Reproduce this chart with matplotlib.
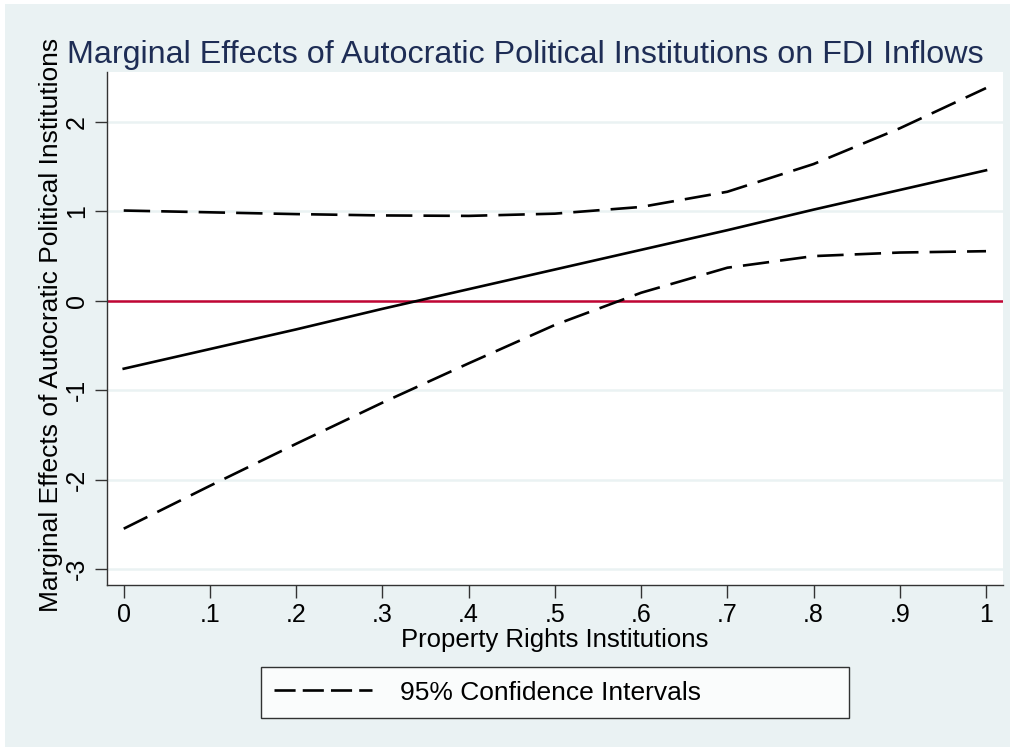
import matplotlib
matplotlib.use("Agg")
import matplotlib.pyplot as plt
from matplotlib.patches import Rectangle
from matplotlib.lines import Line2D

plt.rcParams['font.family'] = ['Liberation Sans', 'DejaVu Sans']

# Data
x_vals = [0.0, 0.1, 0.2, 0.3, 0.4, 0.5, 0.6, 0.7, 0.8, 0.9, 1.0]
marginal_effect = [-0.76, -0.54, -0.32, -0.09, 0.13, 0.35, 0.57, 0.79, 1.02, 1.24, 1.46]
upper_ci = [1.01, 0.99, 0.97, 0.955, 0.95, 0.975, 1.05, 1.22, 1.53, 1.93, 2.38]
lower_ci = [-2.55, -2.07, -1.60, -1.14, -0.70, -0.27, 0.09, 0.37, 0.50, 0.54, 0.555]
x_ticks = [0.0, 0.1, 0.2, 0.3, 0.4, 0.5, 0.6, 0.7, 0.8, 0.9, 1.0]
x_tick_labels = ['0', '.1', '.2', '.3', '.4', '.5', '.6', '.7', '.8', '.9', '1']
y_ticks = [-3, -2, -1, 0, 1, 2]
y_tick_labels = ['-3', '-2', '-1', '0', '1', '2']

title = "Marginal Effects of Autocratic Political Institutions on FDI Inflows"
xlabel = "Property Rights Institutions"
ylabel = "Marginal Effects of Autocratic Political Institutions"
legend_label = "95% Confidence Intervals"

BG = '#EAF2F3'
W, H = 1016, 751
fig = plt.figure(figsize=(W / 100, H / 100), dpi=100)
fig.patch.set_facecolor('white')
fig.patches.append(Rectangle((5 / W, 4 / H), (1010 - 5) / W, (747 - 4) / H,
                             transform=fig.transFigure, facecolor=BG,
                             edgecolor='none', zorder=-10))

ax = fig.add_axes([107 / W, (H - 585) / H, (1003 - 107) / W, (585 - 72) / H])
ax.set_facecolor('white')
ax.set_xlim(-0.0194, 1.0197)
ax.set_ylim(-3.18, 2.56)

for yt in y_ticks:
    ax.axhline(yt, color=BG, lw=1.8, zorder=0)

ax.axhline(0, color='#C10534', lw=1.8, zorder=2)
ax.plot(x_vals, marginal_effect, color='black', lw=1.9, zorder=3)
ax.plot(x_vals, upper_ci, color='black', lw=1.9, dashes=(10, 4.2), zorder=3)
ax.plot(x_vals, lower_ci, color='black', lw=1.9, dashes=(10, 4.2), zorder=3)

for s in ['top', 'right']:
    ax.spines[s].set_visible(False)
for s in ['left', 'bottom']:
    ax.spines[s].set_color('#333333')
    ax.spines[s].set_linewidth(1.0)

ax.set_xticks(x_ticks)
ax.set_xticklabels(x_tick_labels, fontsize=18)
ax.set_yticks(y_ticks)
ax.set_yticklabels(y_tick_labels, fontsize=18, rotation=90, va='center')
ax.tick_params(axis='both', direction='out', length=9, width=1.0, color='#333333', pad=4)

ax.set_xlabel(xlabel, fontsize=18.5, labelpad=1)
ax.set_ylabel(ylabel, fontsize=19, labelpad=2)
ax.yaxis.set_label_coords(-0.049, 0.506)

fig.text(67 / W, 1 - 63 / H, title, fontsize=23.2, color='#1E2D55',
         ha='left', va='baseline')

handle = Line2D([], [], color='black', lw=1.9, dashes=(8, 2.7))
leg = fig.legend([handle], [legend_label], loc='center',
                 bbox_to_anchor=(261 / W, 1 - 717 / H, (849 - 261) / W, (717 - 668) / H),
                 mode='expand', fontsize=19, frameon=True, fancybox=False,
                 handlelength=3.7, handletextpad=1.05, borderpad=0.5,
                 borderaxespad=0)
leg.get_frame().set_edgecolor('black')
leg.get_frame().set_linewidth(1.0)
leg.get_frame().set_facecolor('white')

fig.savefig('out.png', dpi=100, facecolor=fig.get_facecolor())
